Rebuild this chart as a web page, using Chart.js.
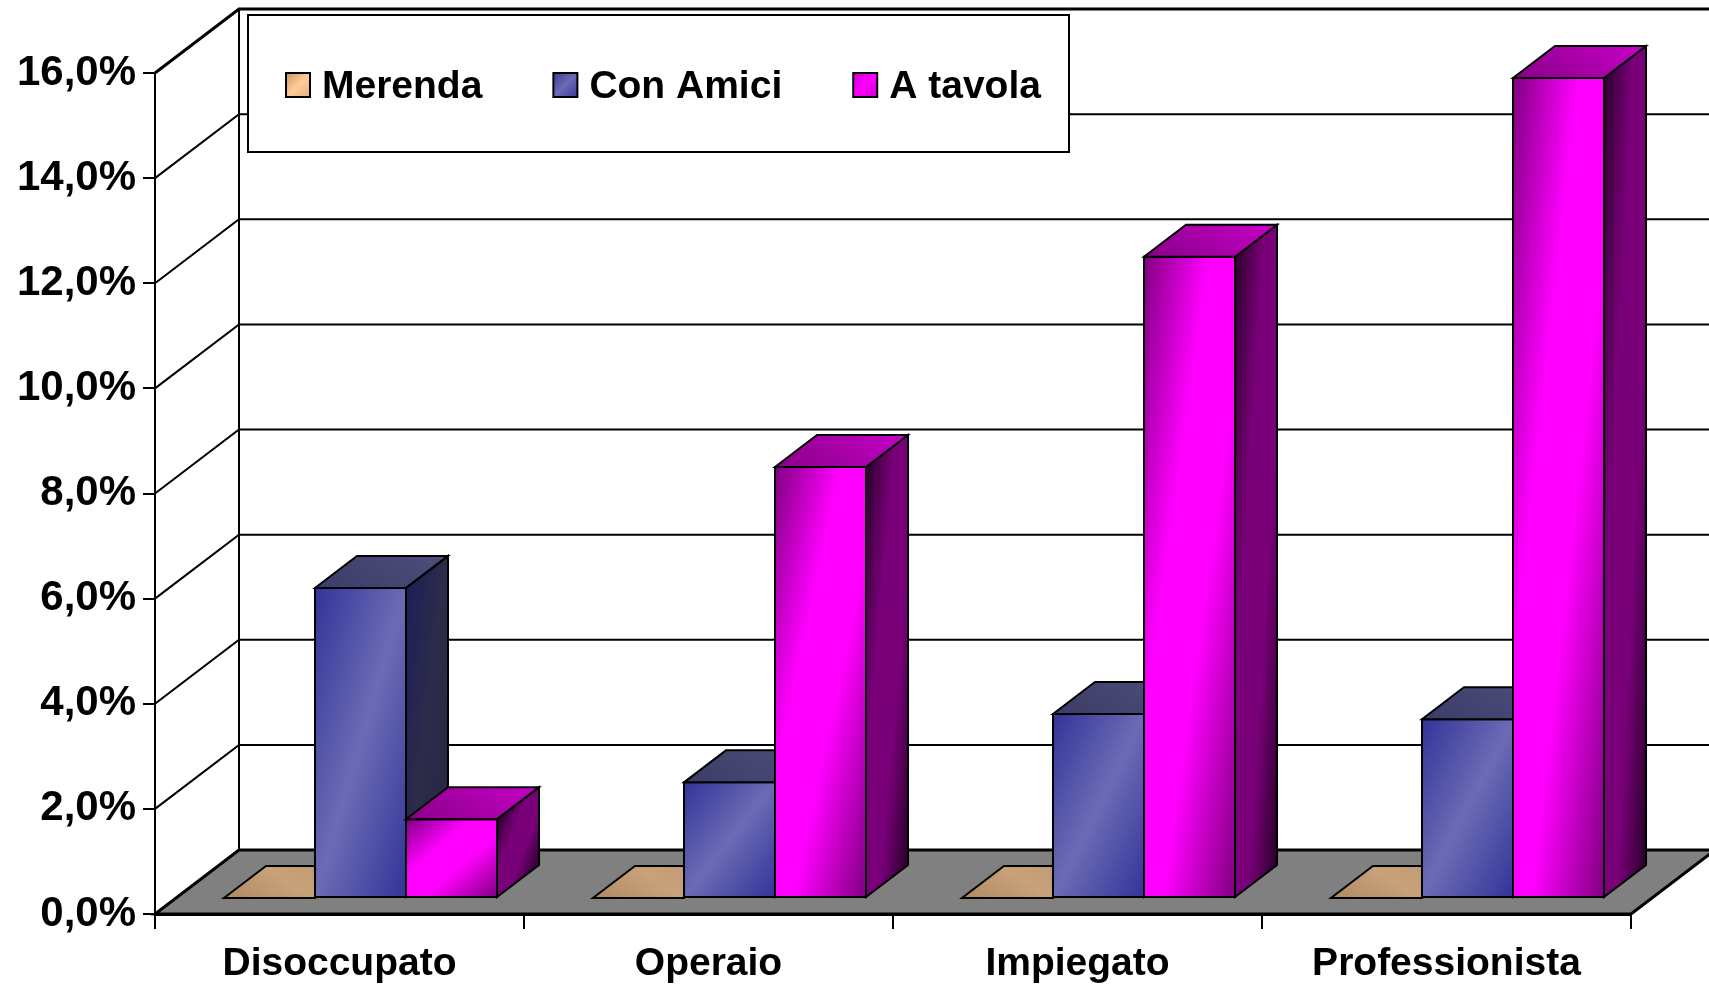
<!DOCTYPE html>
<html>
<head>
<meta charset="utf-8">
<title>Consumi per professione</title>
<script src="https://cdn.jsdelivr.net/npm/chart.js@4.4.1/dist/chart.umd.min.js"></script>
<style>
  html, body { margin: 0; padding: 0; background: #fff; }
  canvas { display: block; }
</style>
</head>
<body>
<canvas id="chart" width="1709" height="984"></canvas>
<script>
const categories = ['Disoccupato', 'Operaio', 'Impiegato', 'Professionista'];
const seriesNames = ['Merenda', 'Con Amici', 'A tavola'];
const merenda = [0, 0, 0, 0];
const conAmici = [5.9, 2.2, 3.5, 3.4];
const aTavola = [1.5, 8.2, 12.2, 15.6];
const yTicks = [0, 2, 4, 6, 8, 10, 12, 14, 16];

const FONT = "'Liberation Sans', Arial, sans-serif";

// depth of the side wall / floor, and where the bars sit inside it
const DEPTH = { x: 84, y: -64 };
const BAR_FRONT = 0.25;
const BAR_DEPTH = 0.5;

// gradient stops for each face: front, side, top and the legend key
const palette = [
    {
        front: [[0, '#A67C52'], [0.5, '#D2AA80'], [1, '#A67C52']],
        side: [[0, '#6E5238'], [1, '#5A4430']],
        top: [[0, '#B08A64'], [0.5, '#C9A27B'], [1, '#B8936E']],
        key: [[0, '#C8955F'], [0.5, '#FFCC99'], [1, '#E4B283']]
    },
    {
        front: [[0, '#333399'], [0.5, '#6B6BB5'], [1, '#333399']],
        side: [[0, '#1E1E58'], [0.5, '#2C2C4A'], [1, '#262640']],
        top: [[0, '#3C3C68'], [1, '#4E4E7A']],
        key: [[0, '#3A3A9E'], [0.5, '#6B6BB5'], [1, '#3A3A9E']]
    },
    {
        front: [[0, '#800080'], [0.36, '#FF00FF'], [0.6, '#FF00FF'], [1, '#800080']],
        side: [[0, '#2A002A'], [0.35, '#7A007A'], [0.65, '#7A007A'], [1, '#2A002A']],
        top: [[0, '#880088'], [1, '#C800C8']],
        key: [[0, '#CC00CC'], [0.5, '#FF00FF'], [1, '#CC00CC']]
    }
];

function pct(v) {
    return v.toFixed(1).replace('.', ',') + '%';
}

// fill a parallelogram (origin o, edges u and v) with a diagonal gradient
function shadeFace(ctx, ox, oy, ux, uy, vx, vy, stops) {
    if (Math.abs(ux * vy - uy * vx) < 0.5) return;
    ctx.save();
    ctx.transform(ux, uy, vx, vy, ox, oy);
    const g = ctx.createLinearGradient(0, 0, 1, 1);
    stops.forEach(s => g.addColorStop(s[0], s[1]));
    ctx.fillStyle = g;
    ctx.fillRect(0, 0, 1, 1);
    ctx.restore();
    ctx.beginPath();
    ctx.moveTo(ox, oy);
    ctx.lineTo(ox + ux, oy + uy);
    ctx.lineTo(ox + ux + vx, oy + uy + vy);
    ctx.lineTo(ox + vx, oy + vy);
    ctx.closePath();
    ctx.stroke();
}

function drawPrism(ctx, x0, x1, yt, yb, bx, by, colors) {
    const w = x1 - x0, h = yb - yt;
    ctx.lineWidth = 2;
    ctx.strokeStyle = '#000';
    ctx.lineJoin = 'miter';
    if (h > 0.5) {
        shadeFace(ctx, x0, yt, w, 0, 0, h, colors.front);
        shadeFace(ctx, x1, yt, bx, by, 0, h, colors.side);
    } else {
        ctx.beginPath();
        ctx.moveTo(x0, yb);
        ctx.lineTo(x1, yb);
        ctx.stroke();
    }
    shadeFace(ctx, x0, yt, w, 0, bx, by, colors.top);
}

const roomPlugin = {
    id: 'room',
    beforeDatasetsDraw(chart) {
        const { ctx, chartArea: a } = chart;
        const y = chart.scales.y;
        const dx = DEPTH.x, dy = DEPTH.y;
        ctx.save();
        // floor
        ctx.beginPath();
        ctx.moveTo(a.left, a.bottom);
        ctx.lineTo(a.right, a.bottom);
        ctx.lineTo(a.right + dx, a.bottom + dy);
        ctx.lineTo(a.left + dx, a.bottom + dy);
        ctx.closePath();
        ctx.fillStyle = '#808080';
        ctx.fill();
        ctx.lineWidth = 3;
        ctx.strokeStyle = '#000';
        ctx.stroke();

        // side wall diagonals and back wall gridlines
        yTicks.forEach(v => {
            const py = y.getPixelForValue(v);
            ctx.lineWidth = v === yTicks[yTicks.length - 1] ? 3 : 2;
            ctx.beginPath();
            ctx.moveTo(a.left, py);
            ctx.lineTo(a.left + dx, py + dy);
            if (v > 0) ctx.lineTo(chart.width, py + dy);
            ctx.stroke();
        });
        ctx.lineWidth = 2;
        ctx.beginPath();
        ctx.moveTo(a.left + dx, y.getPixelForValue(yTicks[yTicks.length - 1]) + dy);
        ctx.lineTo(a.left + dx, a.bottom + dy);
        ctx.stroke();
        ctx.restore();
    },
    afterDatasetsDraw(chart) {
        const ctx = chart.ctx;
        const fx = DEPTH.x * BAR_FRONT, fy = DEPTH.y * BAR_FRONT;
        const bx = DEPTH.x * BAR_DEPTH, by = DEPTH.y * BAR_DEPTH;
        const metas = chart.data.datasets.map((d, i) => chart.getDatasetMeta(i));
        ctx.save();
        categories.forEach((c, j) => {
            metas.forEach((meta, i) => {
                const el = meta.data[j];
                const x0 = el.x - el.width / 2 + fx;
                const x1 = el.x + el.width / 2 + fx;
                drawPrism(ctx, x0, x1, el.y + fy, el.base + fy, bx, by, palette[i]);
            });
        });
        ctx.restore();
    }
};

const legendPlugin = {
    id: 'boxLegend',
    afterDraw(chart) {
        const ctx = chart.ctx;
        const box = { left: 248, top: 15, right: 1069, bottom: 152 };
        ctx.save();
        ctx.fillStyle = '#fff';
        ctx.fillRect(box.left, box.top, box.right - box.left, box.bottom - box.top);
        ctx.lineWidth = 2;
        ctx.strokeStyle = '#000';
        ctx.strokeRect(box.left, box.top, box.right - box.left, box.bottom - box.top);

        ctx.font = `bold 39px ${FONT}`;
        ctx.textBaseline = 'alphabetic';
        ctx.textAlign = 'left';
        let x = 286;
        const keyTop = 73, baseline = 98;
        chart.data.datasets.forEach((ds, i) => {
            ctx.lineWidth = 2;
            shadeFace(ctx, x, keyTop, 24, 0, 0, 24, palette[i].key);
            ctx.fillStyle = '#000';
            ctx.fillText(ds.label, x + 36, baseline);
            x += 36 + ctx.measureText(ds.label).width + 71;
        });
        ctx.restore();
    }
};

const seriesValues = [merenda, conAmici, aTavola];

new Chart(document.getElementById('chart').getContext('2d'), {
    type: 'bar',
    data: {
        labels: categories,
        datasets: seriesNames.map((name, i) => ({
            label: name,
            data: seriesValues[i],
            backgroundColor: 'rgba(0,0,0,0)',
            borderWidth: 0,
            categoryPercentage: 0.74,
            barPercentage: 1.0
        }))
    },
    options: {
        responsive: false,
        animation: false,
        events: [],
        layout: { padding: { top: 73, right: 78, left: 0, bottom: 0 } },
        plugins: {
            legend: { display: false },
            tooltip: { enabled: false }
        },
        scales: {
            x: {
                offset: true,
                grid: {
                    offset: true, drawOnChartArea: false, drawTicks: true,
                    tickLength: 15, color: '#000', lineWidth: 2
                },
                border: { display: true, color: '#000', width: 3 },
                ticks: {
                    color: '#000', padding: 12, maxRotation: 0, autoSkip: false,
                    font: { family: FONT, size: 39, weight: 'bold' }
                },
                afterFit: s => { s.height = 70; }
            },
            y: {
                min: 0,
                max: 16,
                afterBuildTicks: s => { s.ticks = yTicks.map(v => ({ value: v })); },
                grid: {
                    drawOnChartArea: false, drawTicks: true,
                    tickLength: 12, color: '#000', lineWidth: 2
                },
                border: { display: true, color: '#000', width: 2 },
                ticks: {
                    color: '#000', padding: 7,
                    font: { family: FONT, size: 42, weight: 'bold' },
                    callback: v => pct(v)
                },
                afterFit: s => { s.width = 155; }
            }
        }
    },
    plugins: [roomPlugin, legendPlugin]
});
</script>
</body>
</html>
